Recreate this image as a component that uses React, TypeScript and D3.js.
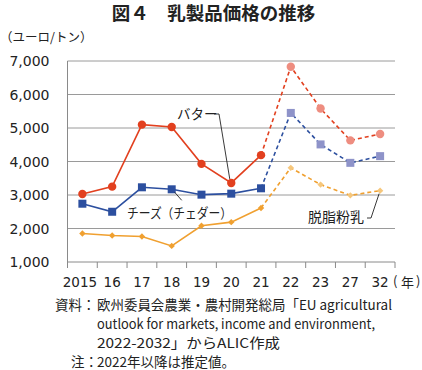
import React from "react";
import * as d3 from "d3";

const categories = ["2015", "16", "17", "18", "19", "20", "21", "22", "23", "27", "32"];
const butter = [3030, 3250, 5100, 5030, 3930, 3360, 4190, 6830, 5580, 4630, 4820];
const cheese = [2740, 2500, 3230, 3170, 3010, 3040, 3200, 5450, 4510, 3960, 4160];
const smp = [1850, 1790, 1760, 1480, 2080, 2190, 2610, 3810, 3310, 2990, 3130];
const yTicks = [1000, 2000, 3000, 4000, 5000, 6000, 7000];
const lastActualIndex = 6; // 2021; later values are estimates

const W = 422;
const H = 370;
const FONT = "'Noto Sans CJK JP', 'Noto Sans', sans-serif";
const NUMFONT = "'DejaVu Sans', sans-serif";

export default function App() {
  const x = d3.scaleBand<string>().domain(categories).range([67.5, 395]).paddingInner(0).paddingOuter(0);
  const y = d3.scaleLinear().domain([1000, 7000]).range([262, 61]);
  const cx = (i: number) => (x(categories[i]) as number) + x.bandwidth() / 2;

  const seriesDefs = [
    { data: smp, color: "#f0a030", light: "#f6c77c", marker: "diamond" },
    { data: cheese, color: "#2c4f9f", light: "#8e93c9", marker: "square" },
    { data: butter, color: "#e2401f", light: "#ee8d80", marker: "circle" },
  ];

  const renderMarker = (kind: string, px: number, py: number, fill: string, key: string) => {
    if (kind === "circle") return <circle key={key} cx={px} cy={py} r={4.2} fill={fill} />;
    if (kind === "square") return <rect key={key} x={px - 4} y={py - 4} width={8} height={8} fill={fill} />;
    const s = 3.2;
    return (
      <path
        key={key}
        d={`M${px},${py - s}L${px + s},${py}L${px},${py + s}L${px - s},${py}Z`}
        fill={fill}
      />
    );
  };

  const bPt = { x: cx(5), y: y(butter[5]) };
  const cPt = { x: cx(3), y: y(cheese[3]) };
  const sPt = { x: cx(10), y: y(smp[10]) };

  return (
    <svg
      width={W}
      height={H}
      style={{ position: "absolute", left: 0, top: 0, background: "#fff" }}
      fontFamily={FONT}
    >
      <rect width={W} height={H} fill="#fff" />
      <text x={213.5} y={20} textAnchor="middle" fontSize={18.5} fontWeight="bold" fill="#222">
        図４　乳製品価格の推移
      </text>
      <text x={0} y={42} fontSize={12.5} fill="#222">
        （ユーロ/トン）
      </text>

      {/* gridlines */}
      {yTicks.slice(1).map((t) => (
        <line key={t} x1={67.5} x2={395} y1={y(t)} y2={y(t)} stroke="#9a9a9a" strokeWidth={1} />
      ))}
      {/* axes */}
      <line x1={67.5} x2={67.5} y1={y(7000)} y2={y(1000)} stroke="#8a8a8a" strokeWidth={1} />
      <line x1={67.5} x2={395} y1={y(1000)} y2={y(1000)} stroke="#8a8a8a" strokeWidth={1} />
      {categories.map((c) => (
        <line key={"tk" + c} x1={x(c) as number} x2={x(c) as number} y1={y(1000)} y2={y(1000) + 6} stroke="#8a8a8a" />
      ))}
      <line x1={395} x2={395} y1={y(1000)} y2={y(1000) + 6} stroke="#8a8a8a" />

      {yTicks.map((t) => (
        <text key={"yl" + t} x={49.5} y={y(t) + 5} textAnchor="end" fontSize={14} fontFamily={NUMFONT} fill="#222">
          {d3.format(",")(t)}
        </text>
      ))}
      {categories.map((c, i) => (
        <text
          key={"xl" + c}
          x={cx(i) - (i === 0 ? 2.5 : 0)}
          y={286.5}
          textAnchor="middle"
          fontSize={13.5}
          fontFamily={NUMFONT}
          fill="#222"
        >
          {c}
        </text>
      ))}
      <g fontSize={13} fill="#222">
        <text x={393} y={286}>(</text>
        <text x={401} y={286.5}>年</text>
        <text x={416} y={286}>)</text>
      </g>

      {/* series */}
      {seriesDefs.map((s, si) => {
        const solidD = d3
          .line<number>()
          .x((_, i) => cx(i))
          .y((d) => y(d))(s.data.slice(0, lastActualIndex + 1)) as string;
        const dashedD = d3
          .line<number>()
          .x((_, i) => cx(i + lastActualIndex))
          .y((d) => y(d))(s.data.slice(lastActualIndex)) as string;
        return (
          <g key={"s" + si}>
            <path d={solidD} fill="none" stroke={s.color} strokeWidth={1.6} />
            <path d={dashedD} fill="none" stroke={s.color} strokeWidth={1.6} strokeDasharray="4,3" />
            {s.data.map((v, i) =>
              renderMarker(s.marker, cx(i), y(v), i > lastActualIndex ? s.light : s.color, `m${si}-${i}`)
            )}
          </g>
        );
      })}

      {/* annotations */}
      <text x={177} y={119} fontSize={13.5} fill="#222">
        バター
      </text>
      <polyline
        points={`214,114 219,114 ${bPt.x - 1.5},${bPt.y - 4}`}
        fill="none"
        stroke="#222"
        strokeWidth={0.9}
      />
      <text x={127} y={218} fontSize={13.5} fill="#222" textLength={105} lengthAdjust="spacingAndGlyphs">
        チーズ（チェダー）
      </text>
      <line x1={cPt.x + 3} y1={cPt.y + 3} x2={cPt.x + 10} y2={cPt.y + 11} stroke="#222" strokeWidth={0.9} />
      <text x={308} y={222} fontSize={14} fill="#222">
        脱脂粉乳
      </text>
      <polyline
        points={`367,218 371,218 ${sPt.x - 1},${sPt.y + 3}`}
        fill="none"
        stroke="#222"
        strokeWidth={0.9}
      />

      {/* footer */}
      <g fontSize={13.5} fill="#222">
        <text x={55} y={310}>資料：</text>
        <text x={97} y={310} textLength={295} lengthAdjust="spacingAndGlyphs">
          欧州委員会農業・農村開発総局「EU agricultural
        </text>
        <text x={97} y={329} textLength={278} lengthAdjust="spacingAndGlyphs">
          outlook for markets, income and environment,
        </text>
        <text x={97} y={348} textLength={183} lengthAdjust="spacingAndGlyphs">
          2022-2032」からALIC作成
        </text>
        <text x={71} y={367}>注：</text>
        <text x={97} y={367}>2022年以降は推定値。</text>
      </g>
    </svg>
  );
}
